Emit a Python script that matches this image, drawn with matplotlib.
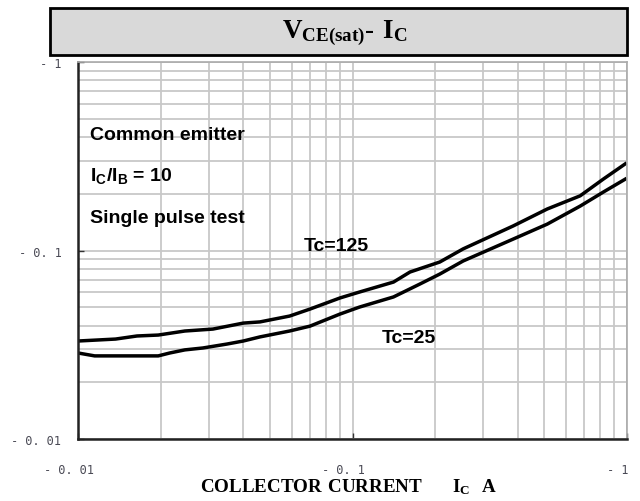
import matplotlib
matplotlib.use("Agg")
import matplotlib.pyplot as plt
import matplotlib.transforms as mtransforms
from matplotlib.patches import Rectangle
from matplotlib.ticker import FixedLocator, LogLocator, NullFormatter

plt.rcParams['mathtext.fontset'] = 'custom'
plt.rcParams['mathtext.rm'] = 'Liberation Serif'
plt.rcParams['mathtext.bf'] = 'Liberation Serif:bold'

# collector current magnitude (A) and VCE(sat) magnitude (V)
ic_125 = [0.01, 0.0137, 0.0164, 0.0196, 0.0245, 0.031, 0.040, 0.046, 0.059, 0.070,
          0.090, 0.106, 0.141, 0.162, 0.208, 0.253, 0.385, 0.512, 0.675, 0.819, 0.985]
vce_125 = [0.0331, 0.0339, 0.0352, 0.0356, 0.0374, 0.0383, 0.0412, 0.0418, 0.0449, 0.0489,
           0.056, 0.0602, 0.068, 0.0769, 0.0869, 0.102, 0.135, 0.166, 0.195, 0.239, 0.288]

ic_25 = [0.01, 0.0115, 0.0196, 0.0216, 0.0245, 0.0285, 0.0349, 0.040, 0.046, 0.059,
         0.070, 0.090, 0.106, 0.141, 0.176, 0.208, 0.253, 0.385, 0.512, 0.675, 0.819, 0.985]
vce_25 = [0.0286, 0.0276, 0.0276, 0.0286, 0.0297, 0.0304, 0.0319, 0.0331, 0.0348, 0.0374,
          0.0397, 0.046, 0.0501, 0.0567, 0.0664, 0.075, 0.088, 0.115, 0.138, 0.172, 0.204, 0.239]

x_ticks = [0.01, 0.1, 1]
x_labels = ["- 0. 01", "- 0. 1", "- 1"]
y_ticks = [0.01, 0.1, 1]
y_labels = ["- 0. 01", "- 0. 1", "- 1"]

fig = plt.figure(figsize=(6.4, 5.02), dpi=100)
ax = fig.add_axes([0.1219, 0.1235, 0.8578, 0.751])

ax.plot(ic_125, vce_125, color='black', lw=2.5)
ax.plot(ic_25, vce_25, color='black', lw=2.5)

ax.set_xscale('log')
ax.set_yscale('log')
ax.set_xlim(0.01, 1)
ax.set_ylim(0.01, 1)

ax.xaxis.set_major_locator(FixedLocator(x_ticks))
ax.yaxis.set_major_locator(FixedLocator(y_ticks))
ax.set_xticklabels(x_labels)
ax.set_yticklabels(y_labels)
ax.xaxis.set_minor_locator(LogLocator(base=10, subs=range(2, 10)))
ax.yaxis.set_minor_locator(LogLocator(base=10, subs=range(2, 10)))
ax.xaxis.set_minor_formatter(NullFormatter())
ax.yaxis.set_minor_formatter(NullFormatter())

ax.grid(True, which='both', color='#c8c8c8', lw=1.3)
ax.set_axisbelow(True)
ax.tick_params(which='major', direction='in', length=4, width=1, colors='#333333',
               labelsize=8.6, labelcolor='#4a4a55')
ax.tick_params(which='minor', length=0)
ax.tick_params(axis='x', pad=17)
ax.tick_params(axis='y', pad=12)
shift = mtransforms.ScaledTranslation(-9 / 100, 0, fig.dpi_scale_trans)
for lab in ax.get_xticklabels():
    lab.set_family('DejaVu Sans Mono')
    lab.set_transform(lab.get_transform() + shift)
for lab in ax.get_yticklabels():
    lab.set_family('DejaVu Sans Mono')

for s in ['left', 'bottom']:
    ax.spines[s].set_color('#222222')
    ax.spines[s].set_linewidth(1.8)
for s in ['top', 'right']:
    ax.spines[s].set_color('#aaaaaa')
    ax.spines[s].set_linewidth(1.2)

txt = dict(fontsize=14, fontweight='bold', family='Liberation Sans', va='baseline')
ax.text(0.0111, 0.391, "Common emitter", **txt)
ax.text(0.0111, 0.235, "I$_\\mathregular{C}$/I$_\\mathregular{B}$ = 10", **txt)
ax.text(0.0111, 0.142, "Single pulse test", **txt)
ax.text(0.0665, 0.101, "Tc=125", **txt)
ax.text(0.128, 0.0326, "Tc=25", **txt)

# title box
fig.patches.append(Rectangle((0.078, 0.888), 0.9016, 0.094, transform=fig.transFigure,
                             facecolor='#d9d9d9', edgecolor='black', lw=2))
fig.text(0.539, 0.935, r'$\mathbf{V_{CE(sat)}}$' + r'$\mathbf{\text{-}\ I_C}$',
         fontsize=19.5, ha='center', va='center')

fig.text(0.545, 0.030, r'$\mathbf{COLLECTOR\ CURRENT\ \ \ \ \ I_C\ \ A}$',
         fontsize=13.7, ha='center', va='center')

fig.savefig("out.png", dpi=100)
